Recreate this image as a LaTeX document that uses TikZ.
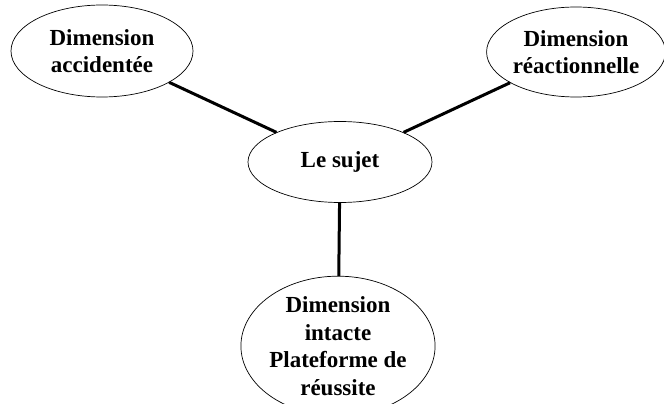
\documentclass[tikz,border=0pt]{standalone}
\usepackage{fontspec}
\setmainfont{Liberation Serif}
\usetikzlibrary{shapes.geometric}

\begin{document}
\begin{tikzpicture}[x=1pt,y=-1pt,
    dim/.style={ellipse,draw,line width=0.7pt,inner sep=0pt,align=center,
        font=\fontsize{23}{27.5}\selectfont\bfseries},
    branche/.style={line width=3pt}]
    \useasboundingbox (0,0) rectangle (664,404);
    \node[dim,minimum width=182pt,minimum height=92pt] (accid) at (102,51) {Dimension\\accidentée};
    \node[dim,minimum width=176pt,minimum height=90pt] (reac) at (576,52) {Dimension\\réactionnelle};
    \node[dim,minimum width=184pt,minimum height=81pt] (sujet) at (340,162) {Le sujet};
    \node[dim,minimum width=180pt,minimum height=128pt] (intacte) at (338,346) {Dimension\\intacte\\Plateforme de\\réussite};
    % liaisons
    \draw[branche] (accid) -- (sujet);
    \draw[branche] (reac) -- (sujet);
    \draw[branche] (sujet) -- (intacte);
\end{tikzpicture}
\end{document}
